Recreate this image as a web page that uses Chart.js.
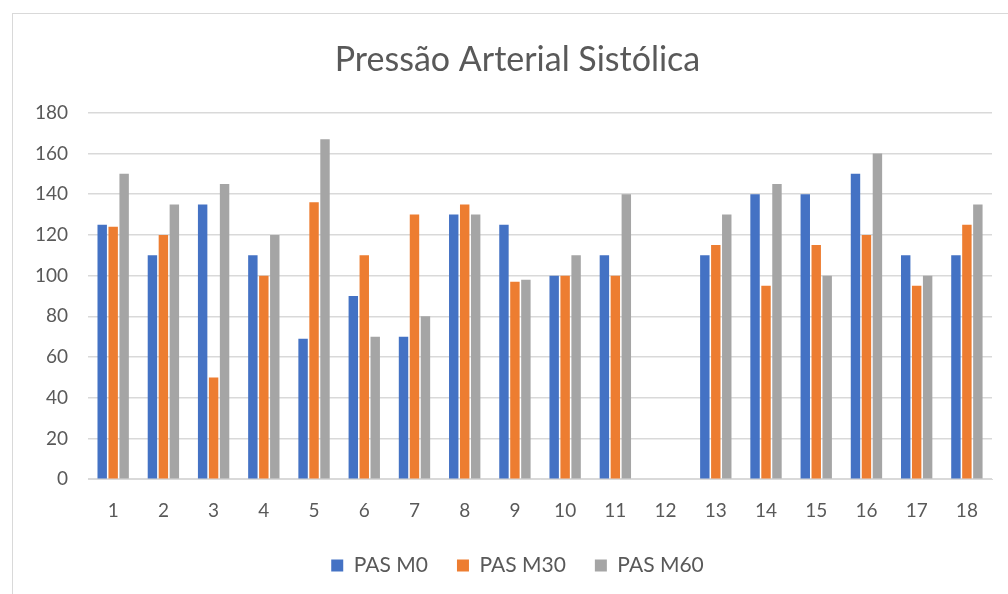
<!DOCTYPE html>
<html>
<head>
  <title>Pressão Arterial Sistólica</title>
  <script src="https://cdn.jsdelivr.net/npm/chart.js"></script>
  <style>
    html, body { margin: 0; padding: 0; background: #fff; }
  </style>
</head>
<body>
  <canvas id="chart" width="1008" height="594"></canvas>
  <script>
    // Pacientes 1..18 (o 12 não tem medições)
    const categorias = ['1', '2', '3', '4', '5', '6', '7', '8', '9', '10', '11', '12', '13', '14', '15', '16', '17', '18'];
    const pasM0  = [125, 110, 135, 110, 69, 90, 70, 130, 125, 100, 110, null, 110, 140, 140, 150, 110, 110];
    const pasM30 = [124, 120, 50, 100, 136, 110, 130, 135, 97, 100, 100, null, 115, 95, 115, 120, 95, 125];
    const pasM60 = [150, 135, 145, 120, 167, 70, 80, 130, 98, 110, 140, null, 130, 145, 100, 160, 100, 135];
    const ticksY = [0, 20, 40, 60, 80, 100, 120, 140, 160, 180];

    const cinza = '#595959';
    const fonte = 'Lato, "Open Sans", sans-serif';

    // Moldura fina à volta do gráfico; título e legenda centrados na moldura
    const moldura = {
      id: 'moldura',
      afterLayout(chart) {
        for (const box of [chart.titleBlock, chart.legend]) {
          if (!box) continue;
          box.left += 14;
          box.right += 14;
        }
      },
      beforeDraw(chart) {
        const c = chart.ctx;
        c.save();
        c.fillStyle = '#fff';
        c.fillRect(0, 0, chart.width, chart.height);
        c.strokeStyle = '#d9d9d9';
        c.lineWidth = 1;
        c.strokeRect(12.5, 13.5, chart.width, chart.height);
        c.restore();
      }
    };

    const ctx = document.getElementById('chart').getContext('2d');
    const chart = new Chart(ctx, {
      type: 'bar',
      data: {
        labels: categorias,
        datasets: [
          { label: 'PAS M0', data: pasM0, backgroundColor: '#4472c4' },
          { label: 'PAS M30', data: pasM30, backgroundColor: '#ed7d31' },
          { label: 'PAS M60', data: pasM60, backgroundColor: '#a5a5a5' }
        ]
      },
      options: {
        responsive: false,
        animation: false,
        categoryPercentage: 0.655,
        barPercentage: 0.86,
        layout: { padding: { left: 15, right: 16, top: 0, bottom: 8 } },
        plugins: {
          title: {
            display: true,
            text: 'Pressão Arterial Sistólica',
            color: cinza,
            font: { family: fonte, size: 34, weight: 'normal' },
            padding: { top: 40, bottom: 32 }
          },
          legend: {
            position: 'bottom',
            labels: {
              color: cinza,
              font: { family: fonte, size: 21 },
              boxWidth: 12,
              boxHeight: 12,
              padding: 29
            }
          },
          tooltip: { enabled: false }
        },
        scales: {
          x: {
            grid: { display: false, drawTicks: false },
            border: { color: '#d9d9d9' },
            ticks: { color: cinza, font: { family: fonte, size: 19 }, padding: 20 },
            // o espaço extra da legenda fica por baixo dos rótulos
            afterFit(scale) { scale.height -= 16; }
          },
          y: {
            min: 0,
            max: 180,
            afterBuildTicks(axis) {
              axis.ticks = ticksY.map(v => ({ value: v }));
            },
            grid: { color: '#d9d9d9', lineWidth: 1.5, drawTicks: false },
            border: { display: false },
            ticks: { color: cinza, font: { family: fonte, size: 19 }, padding: 20 }
          }
        }
      },
      plugins: [moldura]
    });
  </script>
</body>
</html>
